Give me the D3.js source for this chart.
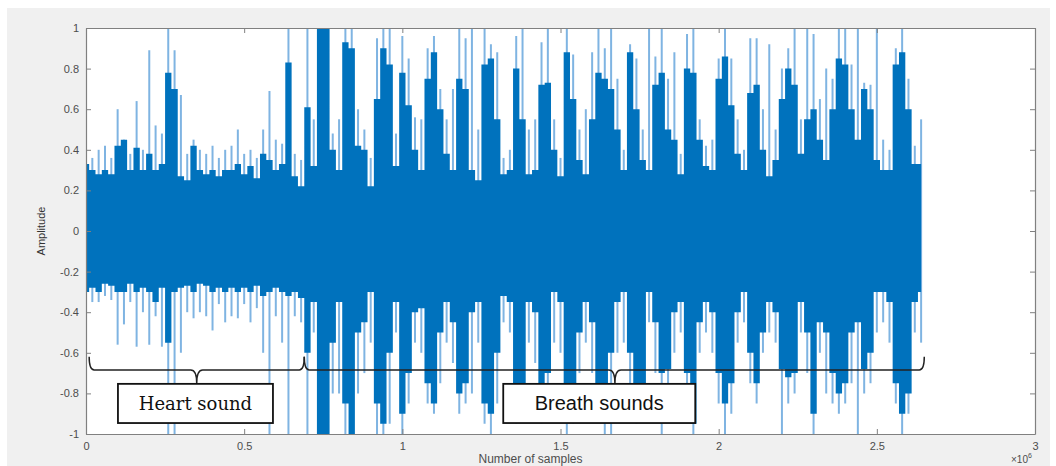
<!DOCTYPE html>
<meta charset="utf-8">
<style>
  body { margin: 0; background: #fff; }
  svg { display: block; font-family: "Liberation Sans", Arial, sans-serif; }
  .axis path, .axis line { stroke: #808080; }
  .axis text { fill: #4d4d4d; font-size: 11px; }
</style>
<body>
<div id="chart"></div>
<script src="https://d3js.org/d3.v7.min.js"></script>
<script>
// one value per bin of 20000 samples
var binSize = 20000;

var upperDark = [
  0.33,0.30,0.28,0.30,0.28,0.42,0.45,0.30,0.41,0.30,
  0.38,0.30,0.33,0.78,0.70,0.27,0.25,0.42,0.30,0.28,
  0.30,0.27,0.30,0.30,0.33,0.28,0.32,0.26,0.38,0.35,
  0.30,0.33,0.83,0.27,0.22,0.61,0.32,1.00,1.00,0.40,
  0.30,0.93,0.90,0.42,0.40,0.22,0.65,0.90,0.82,0.32,
  0.78,0.62,0.40,0.30,0.75,0.88,0.60,0.38,0.30,0.75,
  0.70,0.30,0.25,0.82,0.85,0.55,0.28,0.30,0.80,0.55,
  0.28,0.30,0.72,0.73,0.40,0.27,0.88,0.65,0.35,0.28,
  0.55,0.78,0.75,0.70,0.50,0.30,0.88,0.60,0.35,0.30,
  0.72,0.78,0.50,0.45,0.28,0.80,0.78,0.45,0.32,0.30,
  0.75,0.86,0.62,0.38,0.30,0.68,0.72,0.40,0.27,0.35,
  0.65,0.80,0.72,0.38,0.55,0.60,0.45,0.35,0.60,0.85,
  0.82,0.60,0.45,0.70,0.60,0.35,0.30,0.30,0.82,0.88,
  0.60,0.33,0.33
];
var upperLight = [
  0.50,0.36,0.40,0.42,0.36,0.60,0.45,0.38,0.64,0.40,
  0.89,0.52,0.48,1.00,0.89,0.67,0.38,0.45,0.40,0.38,
  0.42,0.36,0.40,0.42,0.50,0.38,0.40,0.36,0.50,0.69,
  0.45,0.43,1.00,0.38,0.35,1.00,0.55,1.00,1.00,0.48,
  0.55,1.00,1.00,0.60,0.50,0.36,0.95,1.00,1.00,0.48,
  0.96,0.85,0.56,0.55,0.90,0.96,0.70,0.55,0.70,1.00,
  0.95,1.00,0.50,1.00,0.92,0.88,0.36,0.40,0.96,1.00,
  0.50,0.55,0.93,1.00,0.55,0.36,1.00,0.87,0.50,0.60,
  0.88,1.00,0.90,1.00,0.75,0.40,0.92,0.85,0.50,1.00,
  0.86,1.00,0.75,0.88,0.38,0.97,1.00,0.55,0.42,0.45,
  0.85,1.00,0.85,0.55,0.40,0.95,0.95,0.60,0.92,0.50,
  0.80,0.90,1.00,0.55,1.00,0.97,0.65,0.80,0.75,1.00,
  1.00,0.82,1.00,0.73,0.72,1.00,0.45,0.40,0.90,1.00,
  0.75,0.42,0.55
];
var lowerDark = [
  -0.30,-0.28,-0.30,-0.26,-0.27,-0.30,-0.30,-0.26,-0.30,-0.28,
  -0.30,-0.35,-0.28,-0.55,-0.30,-0.28,-0.27,-0.30,-0.26,-0.27,
  -0.30,-0.28,-0.30,-0.28,-0.30,-0.28,-0.30,-0.27,-0.32,-0.30,
  -0.28,-0.30,-0.32,-0.30,-0.33,-0.60,-0.35,-1.00,-1.00,-0.55,
  -0.35,-0.85,-1.00,-0.50,-0.45,-0.30,-0.85,-0.95,-0.60,-0.35,
  -0.90,-0.70,-0.40,-0.38,-0.75,-0.85,-0.50,-0.35,-0.45,-0.80,
  -0.75,-0.40,-0.35,-0.85,-0.90,-0.60,-0.32,-0.35,-0.80,-0.75,
  -0.35,-0.40,-0.75,-0.70,-0.30,-0.35,-0.80,-0.85,-0.50,-0.35,
  -0.45,-0.80,-0.90,-0.60,-0.35,-0.30,-0.60,-0.85,-0.75,-0.30,
  -0.45,-0.70,-0.68,-0.40,-0.35,-0.70,-0.95,-0.45,-0.35,-0.40,
  -0.70,-0.85,-0.75,-0.40,-0.30,-0.60,-0.75,-0.50,-0.35,-0.40,
  -0.68,-0.72,-0.70,-0.35,-0.50,-0.90,-0.45,-0.50,-0.70,-0.80,
  -0.75,-0.50,-0.45,-0.68,-0.60,-0.30,-0.30,-0.35,-0.75,-0.90,
  -0.80,-0.35,-0.30
];
var lowerLight = [
  -0.38,-0.35,-0.35,-0.32,-0.34,-0.56,-0.46,-0.35,-0.57,-0.40,
  -0.56,-0.42,-0.57,-1.00,-1.00,-0.60,-0.40,-0.43,-0.40,-0.42,
  -0.49,-0.36,-0.45,-0.42,-0.43,-0.36,-0.45,-0.38,-0.60,-1.00,
  -0.42,-0.55,-1.00,-0.42,-0.45,-1.00,-0.50,-1.00,-1.00,-0.80,
  -0.80,-1.00,-1.00,-0.80,-0.70,-0.55,-1.00,-1.00,-0.95,-0.50,
  -1.00,-0.85,-0.55,-0.60,-0.85,-0.90,-0.75,-0.55,-0.65,-0.90,
  -0.85,-0.80,-0.55,-0.95,-1.00,-0.85,-0.45,-0.50,-0.95,-0.90,
  -0.55,-0.65,-0.95,-0.85,-0.55,-0.60,-1.00,-0.95,-0.70,-0.55,
  -0.70,-0.90,-1.00,-1.00,-0.60,-0.55,-0.80,-0.95,-0.90,-0.45,
  -0.70,-1.00,-0.80,-0.60,-0.50,-0.85,-1.00,-0.60,-0.50,-0.60,
  -0.85,-1.00,-0.90,-0.55,-0.45,-0.75,-0.85,-0.60,-0.50,-0.55,
  -1.00,-0.85,-0.80,-0.50,-0.70,-1.00,-0.60,-0.80,-0.85,-0.90,
  -0.85,-0.75,-1.00,-0.80,-0.75,-0.50,-0.45,-0.55,-0.85,-1.00,
  -0.90,-0.50,-0.55
];

var xTicks = [0, 0.5e6, 1e6, 1.5e6, 2e6, 2.5e6, 3e6];
var xTickLabels = ["0", "0.5", "1", "1.5", "2", "2.5", "3"];
var yTicks = [1, 0.8, 0.6, 0.4, 0.2, 0, -0.2, -0.4, -0.6, -0.8, -1];
var yTickLabels = ["1", "0.8", "0.6", "0.4", "0.2", "0", "-0.2", "-0.4", "-0.6", "-0.8", "-1"];

// annotation braces: [start, centre, end] in samples
var heartBrace = [10000, 350000, 690000];
var breathBrace = [690000, 1672000, 2650000];

var data = upperDark.map(function(d, i) {
  return {
    s: i * binSize,
    ud: d, ul: upperLight[i],
    ld: lowerDark[i], ll: lowerLight[i]
  };
});

var W = 1056, H = 466;
var margin = {top: 28, right: 21, bottom: 32, left: 86};
var width = W - margin.left - margin.right,   // 949
    height = H - margin.top - margin.bottom;  // 406

var svg = d3.select("#chart").append("svg")
  .attr("width", W)
  .attr("height", H);

// grey figure background
svg.append("rect")
  .attr("x", 7).attr("y", 8)
  .attr("width", 1043).attr("height", H - 8)
  .attr("fill", "#f0f0f0");

var g = svg.append("g")
  .attr("transform", "translate(" + margin.left + "," + margin.top + ")");

var x = d3.scaleLinear().domain([0, 3e6]).range([0, width]);
var y = d3.scaleLinear().domain([-1, 1]).range([height, 0]);

g.append("rect")
  .attr("width", width).attr("height", height)
  .attr("fill", "#fff");

g.append("clipPath").attr("id", "clip")
  .append("rect").attr("width", width).attr("height", height);

var plot = g.append("g").attr("clip-path", "url(#clip)");

// light spikes
plot.selectAll(".spike")
  .data(data)
  .enter().append("line")
  .attr("class", "spike")
  .attr("x1", function(d) { return x(d.s); })
  .attr("x2", function(d) { return x(d.s); })
  .attr("y1", function(d) { return y(d.ul); })
  .attr("y2", function(d) { return y(d.ll); })
  .attr("stroke", "#7fb4e2")
  .attr("stroke-width", 2);

// dense dark body
var area = d3.area()
  .curve(d3.curveStep)
  .x(function(d) { return x(d.s); })
  .y0(function(d) { return y(d.ld); })
  .y1(function(d) { return y(d.ud); });

plot.append("path")
  .datum(data)
  .attr("d", area)
  .attr("fill", "#0072bd");

// axes, ticks inside, mirrored on top/right
var xAxis = d3.axisBottom(x).tickValues(xTicks)
  .tickFormat(function(d, i) { return xTickLabels[i]; })
  .tickSizeInner(-5).tickSizeOuter(0).tickPadding(8);
g.append("g").attr("class", "axis")
  .attr("transform", "translate(0," + height + ")")
  .call(xAxis);

g.append("g").attr("class", "axis")
  .call(d3.axisTop(x).tickValues(xTicks).tickFormat("").tickSizeInner(-5).tickSizeOuter(0));

var yAxis = d3.axisLeft(y).tickValues(yTicks)
  .tickFormat(function(d, i) { return yTickLabels[i]; })
  .tickSizeInner(-5).tickSizeOuter(0).tickPadding(7);
g.append("g").attr("class", "axis").call(yAxis);

g.append("g").attr("class", "axis")
  .attr("transform", "translate(" + width + ",0)")
  .call(d3.axisRight(y).tickValues(yTicks).tickFormat("").tickSizeInner(-5).tickSizeOuter(0));

g.selectAll(".axis .domain").attr("stroke-width", 1.2);

// axis titles
g.append("text")
  .attr("x", width / 2 - 30).attr("y", height + 29)
  .attr("text-anchor", "middle")
  .attr("font-size", 12).attr("fill", "#4d4d4d")
  .text("Number of samples");

var expo = g.append("text")
  .attr("x", width - 24).attr("y", height + 29)
  .attr("font-size", 10).attr("fill", "#4d4d4d");
expo.append("tspan").text("\u00d710");
expo.append("tspan").attr("dy", -5).attr("font-size", 7).text("6");

g.append("text")
  .attr("transform", "translate(" + (-41) + "," + (height / 2) + ") rotate(-90)")
  .attr("text-anchor", "middle")
  .attr("font-size", 11).attr("fill", "#333")
  .text("Amplitude");

// braces
function bracePath(b) {
  var x0 = x(b[0]), xc = x(b[1]), x1 = x(b[2]);
  var yt = y(-0.62), ym = y(-0.685), yb = y(-0.75);
  return "M" + x0 + "," + yt +
    "Q" + x0 + "," + ym + " " + (x0 + 5) + "," + ym +
    "L" + (xc - 6) + "," + ym +
    "Q" + xc + "," + ym + " " + xc + "," + yb +
    "Q" + xc + "," + ym + " " + (xc + 6) + "," + ym +
    "L" + (x1 - 5) + "," + ym +
    "Q" + x1 + "," + ym + " " + x1 + "," + yt;
}

g.selectAll(".brace")
  .data([heartBrace, breathBrace])
  .enter().append("path")
  .attr("class", "brace")
  .attr("d", bracePath)
  .attr("fill", "none")
  .attr("stroke", "#222")
  .attr("stroke-width", 1.5);

// label boxes: [x start, x end] in samples
var labels = [
  {text: "Heart sound", x0: 101000, x1: 591000, font: "'DejaVu Serif', serif", size: 18},
  {text: "Breath sounds", x0: 1319000, x1: 1926000, font: "'Liberation Sans', Arial, sans-serif", size: 20}
];

var lab = g.selectAll(".lab").data(labels).enter().append("g").attr("class", "lab");
lab.append("rect")
  .attr("x", function(d) { return x(d.x0); })
  .attr("width", function(d) { return x(d.x1) - x(d.x0); })
  .attr("y", y(-0.753))
  .attr("height", y(-0.946) - y(-0.753))
  .attr("fill", "#fff")
  .attr("stroke", "#111")
  .attr("stroke-width", 1.8);
lab.append("text")
  .attr("x", function(d) { return (x(d.x0) + x(d.x1)) / 2; })
  .attr("y", (y(-0.753) + y(-0.946)) / 2)
  .attr("dy", "0.35em")
  .attr("text-anchor", "middle")
  .attr("font-family", function(d) { return d.font; })
  .attr("font-size", function(d) { return d.size; })
  .attr("fill", "#111")
  .text(function(d) { return d.text; });
</script>
</body>
